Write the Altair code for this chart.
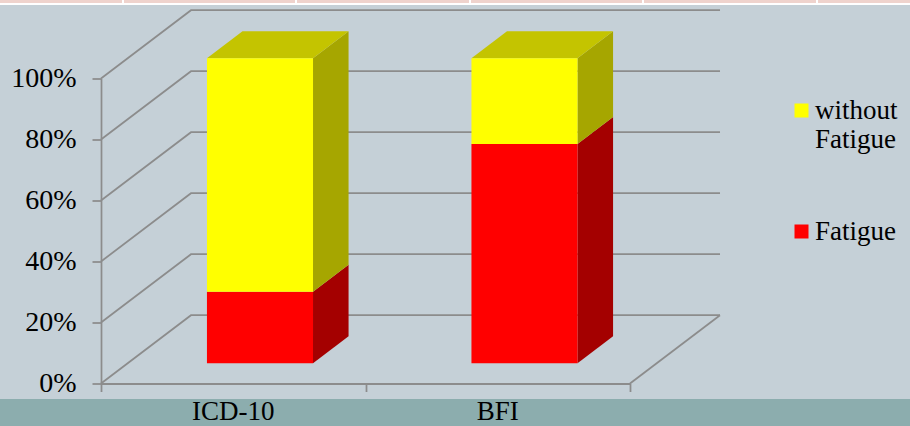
import altair as alt
import pandas as pd

# Share of patients (%) per diagnostic instrument
categories = ["ICD-10", "BFI"]
fatigue = [23.4, 71.9]
without_fatigue = [76.6, 28.1]
series_order = ["without Fatigue", "Fatigue"]
y_ticks = [0, 20, 40, 60, 80, 100]
x_ticks = [0, 1, 2]

# Oblique projection of the 3-D box: one unit of depth moves a point
# this far in category units (x) and percentage points (y).
DEPTH_X = 0.3403
DEPTH_Y = 22.4
BAR_FRONT, BAR_BACK = 0.297, 0.692
BAR_HALF = 0.2005

FONT = "Liberation Serif"
GRID = "#8c8c8c"
W, H = 529, 305
LEFT, TOP = 101, 78.5


def px(d):
    return d * DEPTH_X


def py(d):
    return d * DEPTH_Y


# Stacked segments: the front rectangle and the shaded right-hand side of each
front, side = [], []
for i, cat in enumerate(categories):
    xc = i + 0.5
    parts = [("Fatigue", 0, fatigue[i], "dark_red"),
             ("without Fatigue", fatigue[i], fatigue[i] + without_fatigue[i], "dark_yellow")]
    for name, lo, hi, shade in parts:
        front.append(dict(series=name, x=xc - BAR_HALF + px(BAR_FRONT), x2=xc + BAR_HALF + px(BAR_FRONT),
                          y=lo + py(BAR_FRONT), y2=hi + py(BAR_FRONT)))
        for d in (BAR_FRONT, BAR_BACK):
            side.append(dict(key=f"{cat}-{name}", shade=shade, x=xc + BAR_HALF + px(d),
                             y=lo + py(d), y2=hi + py(d)))

# Lid of each stack
top = []
for i, cat in enumerate(categories):
    hi = fatigue[i] + without_fatigue[i]
    xc = i + 0.5
    for d in (BAR_FRONT, BAR_BACK):
        top.append(dict(key=cat, y=hi + py(d), x=xc - BAR_HALF + px(d), x2=xc + BAR_HALF + px(d)))

# Wall and floor lines
wall = []
for t in y_ticks:
    wall.append(dict(k=f"w{t}", x=0, y=t, o=0))
    wall.append(dict(k=f"w{t}", x=px(1), y=t + py(1), o=1))
    wall.append(dict(k=f"w{t}", x=2 + px(1), y=t + py(1), o=2))
wall.append(dict(k="floor", x=2, y=0, o=0))
wall.append(dict(k="floor", x=2 + px(1), y=py(1), o=1))

X = alt.Scale(domain=[0, 2], nice=False, zero=False)
Y = alt.Scale(domain=[0, 100], nice=False, zero=False)
x_axis = alt.Axis(values=x_ticks, labels=False, grid=False, tickSize=8, tickWidth=1.75, title=None,
                  tickColor=GRID, domainColor=GRID, domainWidth=2)
y_axis = alt.Axis(values=y_ticks, labelExpr="datum.value + '%'", grid=False, tickSize=9, title=None,
                  tickWidth=1.75, tickColor=GRID, domainColor=GRID, domainWidth=1.75,
                  labelFont=FONT, labelFontSize=28, labelColor="#000000", labelPadding=16)
x_enc = alt.X("x:Q", scale=X, axis=x_axis)
y_enc = alt.Y("y:Q", scale=Y, axis=y_axis)

# Slide furniture around the plot
one = pd.DataFrame({"a": [0]})
bottom_band = alt.Chart(one).mark_rect(color="#8cadae").encode(
    x=alt.value(-LEFT), x2=alt.value(910 - LEFT), y=alt.value(399 - TOP), y2=alt.value(426 - TOP))
top_band = alt.Chart(one).mark_rect(color="#efd3cd").encode(
    x=alt.value(-LEFT), x2=alt.value(910 - LEFT), y=alt.value(-TOP), y2=alt.value(3 - TOP))
top_line = alt.Chart(one).mark_rect(color="#ffffff").encode(
    x=alt.value(-LEFT), x2=alt.value(910 - LEFT), y=alt.value(3 - TOP), y2=alt.value(5 - TOP))
cell_edges = [
    alt.Chart(one).mark_rect(color="#ffffff").encode(
        x=alt.value(e - 1 - LEFT), x2=alt.value(e + 1 - LEFT), y=alt.value(-TOP), y2=alt.value(3 - TOP))
    for e in (123, 296, 470, 643, 817)
]

walls = alt.Chart(pd.DataFrame(wall)).mark_line(color=GRID, strokeWidth=1.75).encode(
    x=x_enc, y=y_enc, detail="k:N", order="o:Q")

side_df = pd.DataFrame(side)
shades = {"dark_red": "#a40000", "dark_yellow": "#a6a600"}
sides = [
    alt.Chart(side_df[side_df["shade"] == s]).mark_area(orient="vertical", color=c).encode(
        x=x_enc, y=y_enc, y2="y2:Q", detail="key:N")
    for s, c in shades.items()
]

tops = alt.Chart(pd.DataFrame(top)).mark_area(orient="horizontal", color="#c4c400").encode(
    y=y_enc, x=x_enc, x2="x2:Q", detail="key:N")

fronts = alt.Chart(pd.DataFrame(front)).mark_rect().encode(
    x=x_enc, x2="x2:Q", y=y_enc, y2="y2:Q",
    color=alt.Color("series:N", scale=alt.Scale(domain=series_order, range=["#ffff00", "#ff0000"]),
                    legend=alt.Legend(title=None, orient="none", legendX=788 - LEFT, legendY=97 - TOP,
                                      symbolType="square", symbolSize=196, symbolStrokeWidth=0,
                                      labelFont=FONT, labelFontSize=27, labelColor="#000000",
                                      labelOffset=0, rowPadding=64, labelLimit=200,
                                      labelExpr="split(datum.label, ' ')")),
)

cat_labels = alt.Chart(pd.DataFrame({"x": [0.5, 1.5], "label": categories})).mark_text(
    font=FONT, fontSize=27, color="#000000", baseline="alphabetic").encode(
    x=x_enc, y=alt.value(420 - TOP), text="label:N")

chart = alt.layer(bottom_band, top_band, top_line, *cell_edges, walls, *sides, tops, fronts, cat_labels).properties(
    width=W, height=H, padding={"left": LEFT, "top": TOP, "right": 910 - LEFT - W, "bottom": 426 - TOP - H},
    autosize=alt.AutoSizeParams(type="none"), background="#c5d0d7",
).configure_view(stroke=None)

chart.save("out.html", embed_options={"renderer": "svg", "actions": False})
